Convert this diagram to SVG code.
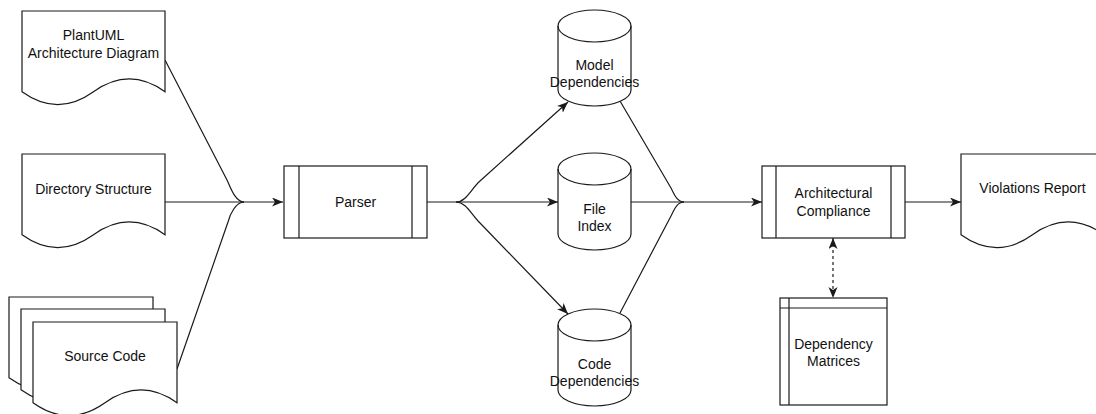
<svg xmlns="http://www.w3.org/2000/svg" width="1096" height="414" viewBox="0 0 1096 414">
  <style>
    .shape { fill: #ffffff; stroke: #1a1a1a; stroke-width: 1.2; }
    .line { fill: none; stroke: #1a1a1a; stroke-width: 1.2; }
    .edge { fill: none; stroke: #1a1a1a; stroke-width: 1.2; }
    .dashed { stroke-dasharray: 3 3; }
    .label { font-family: "Liberation Sans", Arial, Helvetica, sans-serif; font-size: 14px; fill: #111111; text-anchor: middle; }
  </style>
  <defs>
    <marker id="arrow" markerUnits="userSpaceOnUse" markerWidth="13" markerHeight="11" refX="11" refY="4.5" orient="auto-start-reverse">
      <path d="M0,0 L11,4.5 L0,9 L3,4.5 Z" fill="#1a1a1a"/>
    </marker>
  </defs>

  <rect width="1096" height="414" fill="#ffffff"/>

  <!-- connectors -->
  <g id="connectors">
    <!-- inputs merging into the parser -->
    <path class="edge" d="M165,60 L227,180 C230,186 235,202 244,202"/>
    <path class="edge" d="M165,202 L283,202" marker-end="url(#arrow)"/>
    <path class="edge" d="M177,369 L228,222 C230,214 236,202 244,202"/>
    <!-- parser fanning out to the stores -->
    <path class="edge" d="M427,202 L558,202" marker-end="url(#arrow)"/>
    <path class="edge" d="M456,202 C466,202 471,189 480,181 L568,102" marker-end="url(#arrow)"/>
    <path class="edge" d="M456,202 C466,202 471,214 480,223 L568,314" marker-end="url(#arrow)"/>
    <!-- stores merging into compliance check -->
    <path class="edge" d="M620,101 L671,188 C674,194 677,202 684,202"/>
    <path class="edge" d="M620,313 L671,216 C674,210 677,202 684,202"/>
    <path class="edge" d="M631,202 L762,202" marker-end="url(#arrow)"/>
    <!-- compliance to report -->
    <path class="edge" d="M905,202 L961,202" marker-end="url(#arrow)"/>
    <!-- compliance <-> matrices -->
    <path class="edge dashed" d="M833,238 L833,298" marker-start="url(#arrow)" marker-end="url(#arrow)"/>
  </g>

  <g id="plantuml-diagram">
    <path class="shape" d="M22,11 H165 V91.75 Q129.25,66.1 93.5,91.75 Q57.75,117.4 22,91.75 Z"/>
    <text class="label" x="93.5" y="40">PlantUML</text>
    <text class="label" x="93.5" y="58">Architecture Diagram</text>
  </g>

  <g id="directory-structure">
    <path class="shape" d="M22,154 H165 V234.75 Q129.25,209.1 93.5,234.75 Q57.75,260.4 22,234.75 Z"/>
    <text class="label" x="93.5" y="194">Directory Structure</text>
  </g>

  <g id="source-code">
    <path class="shape" d="M9,297 H153 V377.75 Q117,352.1 81,377.75 Q45,403.4 9,377.75 Z"/>
    <path class="shape" d="M21,309 H165 V389.75 Q129,364.1 93,389.75 Q57,415.4 21,389.75 Z"/>
    <path class="shape" d="M33,322 H177 V402.75 Q141,377.1 105,402.75 Q69,428.4 33,402.75 Z"/>
    <text class="label" x="105" y="361">Source Code</text>
  </g>

  <g id="parser">
    <rect class="shape" x="284" y="166" width="143" height="72"/>
    <path class="line" d="M299,166 V238 M412,166 V238"/>
    <text class="label" x="355.5" y="207">Parser</text>
  </g>

  <g id="model-dependencies">
    <path class="shape" d="M558,26 A36.5,16 0 0 1 631,26 V90 A36.5,16 0 0 1 558,90 Z"/>
    <path class="line" d="M558,26 A36.5,16 0 0 0 631,26"/>
    <text class="label" x="594.5" y="70">Model</text>
    <text class="label" x="594.5" y="87">Dependencies</text>
  </g>

  <g id="file-index">
    <path class="shape" d="M558,169 A36.5,16 0 0 1 631,169 V234 A36.5,16 0 0 1 558,234 Z"/>
    <path class="line" d="M558,169 A36.5,16 0 0 0 631,169"/>
    <text class="label" x="594.5" y="214">File</text>
    <text class="label" x="594.5" y="231">Index</text>
  </g>

  <g id="code-dependencies">
    <path class="shape" d="M558,325 A36.5,16 0 0 1 631,325 V390 A36.5,16 0 0 1 558,390 Z"/>
    <path class="line" d="M558,325 A36.5,16 0 0 0 631,325"/>
    <text class="label" x="594.5" y="369">Code</text>
    <text class="label" x="594.5" y="386">Dependencies</text>
  </g>

  <g id="architectural-compliance">
    <rect class="shape" x="762" y="166" width="143" height="72"/>
    <path class="line" d="M776,166 V238 M891,166 V238"/>
    <text class="label" x="833.5" y="198">Architectural</text>
    <text class="label" x="833.5" y="216">Compliance</text>
  </g>

  <g id="violations-report">
    <path class="shape" d="M961,154 H1104 V234.75 Q1068.25,209.1 1032.5,234.75 Q996.75,260.4 961,234.75 Z"/>
    <text class="label" x="1032.5" y="193">Violations Report</text>
  </g>

  <g id="dependency-matrices">
    <rect class="shape" x="780" y="298" width="107" height="107"/>
    <path class="line" d="M780,308 H887 M789,298 V405"/>
    <text class="label" x="833.5" y="349">Dependency</text>
    <text class="label" x="833.5" y="366">Matrices</text>
  </g>
</svg>
